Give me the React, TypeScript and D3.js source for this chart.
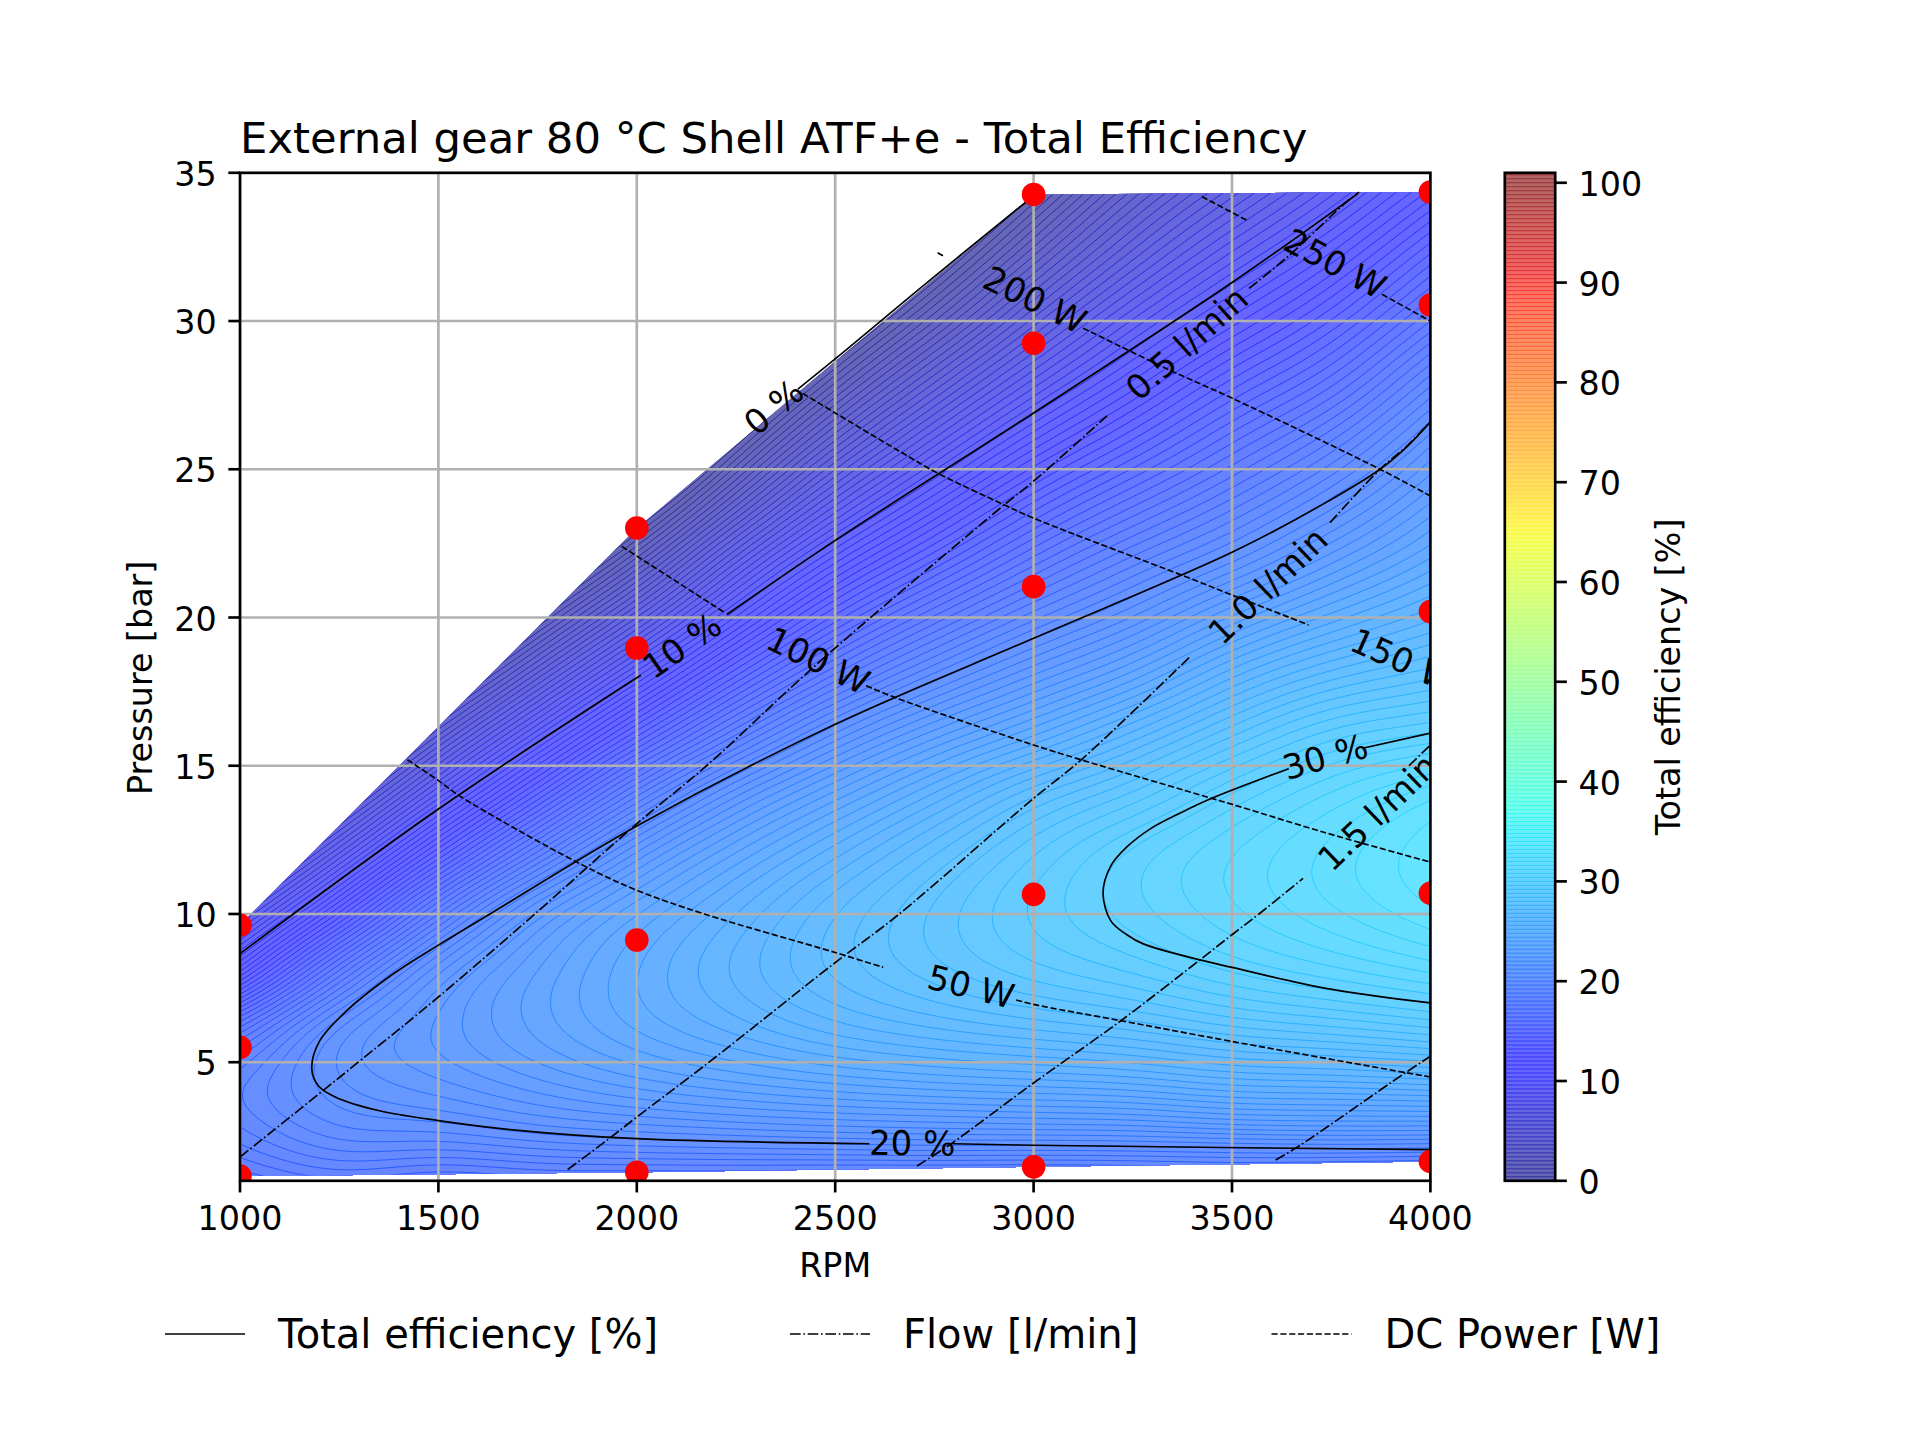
import React, { useMemo } from "react";
import * as d3 from "d3";

// ---------- data ----------
const xTickValues = [1000, 1500, 2000, 2500, 3000, 3500, 4000];
const yTickValues = [5, 10, 15, 20, 25, 30, 35];
const cbarTickValues = [0, 10, 20, 30, 40, 50, 60, 70, 80, 90, 100];

const measuredPoints: [number, number][] = [
  [1000, 9.62], [1000, 5.5], [1000, 1.16],
  [2000, 23.02], [2000, 18.97], [2000, 9.12], [2000, 1.29],
  [3000, 34.27], [3000, 29.25], [3000, 21.04], [3000, 10.66], [3000, 1.47],
  [4000, 34.35], [4000, 30.54], [4000, 20.2], [4000, 10.7], [4000, 1.65],
];

// efficiency table: value per pressure row for each rpm column
const pressureRows = [1, 2, 3, 4, 6, 8, 10, 12, 14, 16, 18, 20, 22, 24, 26, 28, 30, 32, 34, 35];
const rpmColumns = [1000, 1250, 1500, 1750, 2000, 2250, 2500, 2750, 3000, 3250, 3500, 3750, 4000];
const eta1000 = [16.8, 17.8, 18.5, 18.8, 16.8, 11.7, 7.3, 3.0, -1, -5, -9, -13, -17, -21, -25, -29, -33, -37, -41, -43];
const eta1250 = [17.6, 18.9, 19.8, 20.3, 20.3, 17.1, 12.5, 8.1, 3.9, -0.1, -4, -8, -12, -16, -20, -24, -28, -32, -36, -38];
const eta1500 = [17.0, 18.7, 20.0, 20.9, 21.7, 20.9, 17.7, 13.3, 9.0, 4.9, 0.7, -3.5, -7.7, -11.9, -16, -20, -24, -28, -32, -34];
const eta1750 = [17.4, 19.1, 20.6, 21.65, 22.9, 22.85, 21.5, 17.85, 13.7, 9.6, 5.5, 1.4, -2.7, -6.8, -11, -15, -19, -23, -27, -29];
const eta2000 = [17.3, 19.3, 20.95, 22.3, 24.0, 24.4, 23.6, 21.4, 18.0, 14.0, 10.0, 6.0, 2.0, -2, -6, -10, -14, -18, -22, -24];
const eta2250 = [17.3, 19.4, 21.26, 22.8, 24.86, 25.7, 25.2, 23.7, 21.2, 17.7, 14.1, 10.5, 7.0, 3.2, -0.3, -3.8, -7.4, -11, -14.5, -16];
const eta2500 = [17.1, 19.5, 21.5, 23.2, 25.7, 26.9, 26.8, 25.5, 23.4, 20.6, 17.4, 14.2, 11.0, 7.7, 4.4, 1.1, -2.2, -5.5, -8.8, -10.5];
const eta2750 = [17.04, 19.6, 21.65, 23.5, 26.26, 27.8, 28.1, 27.2, 25.3, 22.7, 19.8, 16.9, 13.9, 11.0, 8.1, 5.1, 2.0, -1, -4, -5.5];
const eta3000 = [17.0, 19.55, 21.8, 23.7, 26.7, 28.6, 29.3, 28.8, 27.2, 24.4, 21.7, 19.1, 16.5, 13.9, 11.2, 8.5, 5.8, 3.1, 0.4, -1];
const eta3250 = [17.1, 19.6, 21.9, 23.9, 27.1, 29.2, 30.2, 30.15, 28.5, 26.2, 23.4, 20.8, 18.5, 16.1, 13.6, 11.2, 8.9, 6.5, 4.2, 3.0];
const eta3500 = [17.4, 19.7, 22.3, 24.4, 27.75, 30.0, 31.1, 31.2, 30.1, 28.0, 25.6, 22.9, 20.2, 18.0, 15.9, 13.7, 11.4, 9.2, 7.0, 5.9];
const eta3750 = [17.0, 19.8, 22.4, 24.5, 28.1, 30.6, 31.9, 32.15, 31.3, 29.5, 27.1, 24.6, 22.2, 20.0, 17.9, 15.7, 13.6, 11.5, 9.4, 8.4];
const eta4000 = [16.8, 19.7, 22.4, 24.7, 28.55, 31.2, 32.7, 33.1, 32.3, 30.1, 27.9, 25.9, 24.0, 22.3, 20.6, 18.6, 16.4, 14.3, 12.1, 11.0];
const etaColumns = [eta1000, eta1250, eta1500, eta1750, eta2000, eta2250, eta2500, eta2750, eta3000, eta3250, eta3500, eta3750, eta4000];

// labelled iso-lines, [rpm, bar]
type Pt = [number, number];
const eff0: Pt[] = [[2406, 27.7], [2530, 29.05], [2700, 30.95], [2956, 33.75], [2985, 34.05]];
const eff10a: Pt[] = [[1000, 8.66], [1500, 13.54], [2010, 18.05]];
const eff10b: Pt[] = [[2227, 20.1], [2500, 22.6], [3000, 26.9], [3500, 31.3], [3817, 34.3]];
const eff20a: Pt[] = [
  [4000, 26.6], [3940, 25.75], [3873, 25.0], [3733, 23.85], [3500, 22.2], [3000, 19.3], [2500, 16.4], [2000, 12.97],
  [1630, 10], [1500, 8.95], [1383, 7.95], [1270, 6.75], [1200, 5.7],
  [1181, 4.75], [1198, 4.2], [1240, 3.83], [1349, 3.37], [1500, 3.03], [1687, 2.72], [2000, 2.42], [2586, 2.25],
];
const eff20b: Pt[] = [[2796, 2.25], [3000, 2.2], [4000, 2.05]];
const eff30a: Pt[] = [
  [3643, 14.9], [3449, 13.9], [3375, 13.44], [3295, 12.88], [3235, 12.26], [3195, 11.63], [3175, 10.7], [3195, 9.76], [3235, 9.3], [3275, 9.0], [3419, 8.45],
  [3500, 8.2], [3733, 7.5], [4000, 7.0],
];
const eff30b: Pt[] = [[3832, 15.6], [4000, 16.1]];

const flow05a: Pt[] = [
  [1000, 1.8], [1298, 5], [1500, 7.2], [1743, 10], [1996, 13], [2176, 15], [2406, 17.85], [2537, 19.4], [2926, 23.8],
  [3000, 24.6], [3185, 26.8],
];
const flow05b: Pt[] = [[3543, 31.1], [3643, 32.2], [3787, 34.0], [3820, 34.35]];
const flow10a: Pt[] = [
  [1826, 1.38], [1928, 2.4], [2000, 3.15], [2182, 5], [2500, 8.36], [2656, 9.94], [3000, 13.9], [3120, 15.2], [3392, 18.65],
];
const flow10b: Pt[] = [[3747, 23.2], [3873, 25], [3942, 25.8], [4000, 26.6]];
const flow15a: Pt[] = [
  [2706, 1.5], [2787, 2.2], [3000, 4.3], [3220, 6.4], [3419, 8.45], [3500, 9.3], [3568, 10], [3679, 11.2],
];
const flow15b: Pt[] = [[3946, 15], [4000, 15.7]];
const flow20: Pt[] = [[3610, 1.7], [3664, 2.13], [3932, 4.6], [4000, 5.2]];

const power50a: Pt[] = [[1422, 15.2], [1500, 14.5], [1557, 13.95], [1856, 11.7], [2000, 10.8], [2170, 10], [2500, 8.7], [2621, 8.2]];
const power50b: Pt[] = [[2956, 7.1], [3000, 6.95], [3220, 6.4], [3500, 5.7], [4000, 4.5]];
const power100a: Pt[] = [[1962, 22.4], [2221, 20.17]];
const power100b: Pt[] = [[2578, 17.7], [2651, 17.3], [3000, 15.7], [3120, 15.2], [3449, 13.9], [3500, 13.7], [3733, 12.75], [4000, 11.75]];
const power150: Pt[] = [[2418, 27.56], [2500, 26.9], [2663, 25.6], [2761, 24.85], [2926, 23.8], [3000, 23.35], [3379, 21.4], [3500, 20.76], [3693, 19.75]];
const power200: Pt[] = [[3125, 29.76], [3334, 28.4], [3500, 27.4], [3873, 25], [4000, 24.1]];
const power250a: Pt[] = [[3424, 34.2], [3537, 33.4]];
const power250b: Pt[] = [[3878, 30.9], [4000, 30.0]];
const powerTail: Pt[] = [[2758, 32.3], [2776, 32.17]];

const effSegments = [eff0, eff10a, eff10b, eff20a, eff20b, eff30a, eff30b];
const flowSegments = [flow05a, flow05b, flow10a, flow10b, flow15a, flow15b, flow20];
const powerSegments = [power50a, power50b, power100a, power100b, power150, power200, power250a, power250b, powerTail];

const lineLabels: { text: string; rpm: number; bar: number; angle: number }[] = [
  { text: "0 %", rpm: 2345, bar: 27.1, angle: -40 },
  { text: "10 %", rpm: 2114, bar: 19.05, angle: -35 },
  { text: "20 %", rpm: 2694, bar: 2.27, angle: 0.5 },
  { text: "30 %", rpm: 3735, bar: 15.3, angle: -16 },
  { text: "0.5 l/min", rpm: 3386, bar: 29.25, angle: -42 },
  { text: "1.0 l/min", rpm: 3590, bar: 21.07, angle: -44 },
  { text: "1.5 l/min", rpm: 3867, bar: 13.43, angle: -44 },
  { text: "50 W", rpm: 2842, bar: 7.55, angle: 14 },
  { text: "100 W", rpm: 2457, bar: 18.55, angle: 26 },
  { text: "150 W", rpm: 3930, bar: 18.55, angle: 24 },
  { text: "200 W", rpm: 3003, bar: 30.72, angle: 26 },
  { text: "250 W", rpm: 3760, bar: 31.94, angle: 28 },
];

const legendItems = [
  { text: "Total efficiency [%]", x0: 165, x1: 245, tx: 278, dash: "none" },
  { text: "Flow [l/min]", x0: 790, x1: 870, tx: 903, dash: "dashdot" },
  { text: "DC Power [W]", x0: 1271.5, x1: 1351.5, tx: 1384.5, dash: "dashed" },
];

const TITLE = "External gear 80 °C Shell ATF+e - Total Efficiency";
const LEVEL_STEP = 0.4;
const FIELD_LEVEL_COUNT = 85;
const CBAR_LEVEL_COUNT = 253;

// ---------- layout ----------
const PX = 240 / 72; // pixels per point
const LEFT = 240, RIGHT = 1430.4, TOP = 172.8, BOTTOM = 1180.8;
const CB_L = 1504.8, CB_R = 1555.2;
const FONT = "'DejaVu Sans', sans-serif";
const DASHES: Record<string, string> = {
  none: "none",
  dashdot: [6.4, 1.6, 1, 1.6].map((d) => d * 0.5 * PX).join(" "),
  dashed: [3.7, 1.6].map((d) => d * 0.5 * PX).join(" "),
};

const x = d3.scaleLinear().domain([1000, 4000]).range([LEFT, RIGHT]);
const y = d3.scaleLinear().domain([1, 35]).range([BOTTOM, TOP]);
const cy = d3.scaleLinear().domain([0, 101]).range([BOTTOM, TOP]);

// jet colormap
const jetR = d3.scaleLinear().domain([0, 0.35, 0.66, 0.89, 1]).range([0, 0, 1, 1, 0.5]).clamp(true);
const jetG = d3.scaleLinear().domain([0, 0.125, 0.375, 0.64, 0.91, 1]).range([0, 0, 1, 1, 0, 0]).clamp(true);
const jetB = d3.scaleLinear().domain([0, 0.11, 0.34, 0.65, 1]).range([0.5, 1, 1, 0, 0]).clamp(true);
const jet = (v: number, alpha = 1) => {
  const t = v / 100;
  const mix = (c: number) => Math.round(255 * (c * alpha + (1 - alpha)));
  return `rgb(${mix(jetR(t))},${mix(jetG(t))},${mix(jetB(t))})`;
};

// smooth reading of the table between its rows and columns
function cubicAt(xs: number[], ys: number[], v: number) {
  const n = xs.length;
  const slope = (k: number) => {
    if (k === 0) return (ys[1] - ys[0]) / (xs[1] - xs[0]);
    if (k === n - 1) return (ys[n - 1] - ys[n - 2]) / (xs[n - 1] - xs[n - 2]);
    const h0 = xs[k] - xs[k - 1], h1 = xs[k + 1] - xs[k];
    const d0 = (ys[k] - ys[k - 1]) / h0, d1 = (ys[k + 1] - ys[k]) / h1;
    return (d0 * h1 + d1 * h0) / (h0 + h1);
  };
  if (v <= xs[0]) return ys[0] + (v - xs[0]) * slope(0);
  if (v >= xs[n - 1]) return ys[n - 1] + (v - xs[n - 1]) * slope(n - 1);
  let i = d3.bisectRight(xs, v) - 1;
  i = Math.max(0, Math.min(n - 2, i));
  const h = xs[i + 1] - xs[i];
  const t = (v - xs[i]) / h;
  const t2 = t * t, t3 = t2 * t;
  return (2 * t3 - 3 * t2 + 1) * ys[i] + (t3 - 2 * t2 + t) * h * slope(i) +
    (-2 * t3 + 3 * t2) * ys[i + 1] + (t3 - t2) * h * slope(i + 1);
}

// three box passes along one axis evens out the reading noise of the table
function boxBlur(v: Float64Array, nx: number, ny: number, r: number, alongX: boolean) {
  const [len, lines] = alongX ? [nx, ny] : [ny, nx];
  const at = (l: number, k: number) => (alongX ? l * nx + k : k * nx + l);
  const buf = new Float64Array(len);
  for (let pass = 0; pass < 3; pass++) {
    for (let l = 0; l < lines; l++) {
      for (let k = 0; k < len; k++) {
        let s = 0;
        for (let q = -r; q <= r; q++) s += v[at(l, Math.max(0, Math.min(len - 1, k + q)))];
        buf[k] = s / (2 * r + 1);
      }
      for (let k = 0; k < len; k++) v[at(l, k)] = buf[k];
    }
  }
}

function buildField() {
  const nx = 361, ny = 283;
  const rpmAt = d3.scaleLinear().domain([0, nx - 1]).range([700, 4300]);
  const barAt = d3.scaleLinear().domain([0, ny - 1]).range([37, -1]);
  const values = new Float64Array(nx * ny);
  for (let j = 0; j < ny; j++) {
    const b = barAt(j);
    const colVals = etaColumns.map((col) => cubicAt(pressureRows, col, b));
    for (let i = 0; i < nx; i++) values[j * nx + i] = cubicAt(rpmColumns, colVals, rpmAt(i));
  }
  boxBlur(values, nx, ny, 7, true);
  boxBlur(values, nx, ny, 2, false);
  const levels = d3.range(FIELD_LEVEL_COUNT).map((k) => k * LEVEL_STEP);
  const polys = d3.contours().size([nx, ny]).thresholds(levels)(values as any);
  const proj = d3.geoTransform({
    point(this: any, gx: number, gy: number) {
      this.stream.point(x(rpmAt(gx - 0.5)), y(barAt(gy - 0.5)));
    },
  });
  const path = d3.geoPath(proj);
  return polys.map((p, k) => ({ level: levels[k], d: path(p as any) || "" }));
}

const segLine = d3
  .line<Pt>()
  .x((d) => x(d[0]))
  .y((d) => y(d[1]))
  .curve(d3.curveCatmullRom.alpha(0.5));

const Txt = (p: any) => <text fontFamily={FONT} fill="#000" {...p} />;

export default function App() {
  const bands = useMemo(buildField, []);
  const hull = useMemo(
    () => d3.polygonHull(measuredPoints.map((p) => [x(p[0]), y(p[1])] as [number, number]))!,
    []
  );
  const hullPath = "M" + hull.map((p) => p.join(",")).join("L") + "Z";
  const cbarLevels = d3.range(CBAR_LEVEL_COUNT).map((k) => k * LEVEL_STEP);
  const lw = 0.5 * PX;
  const axisW = 0.8 * PX;
  const tickL = 3.5 * PX;
  const grid = "#b0b0b0";

  return (
    <svg
      width={1920}
      height={1440}
      viewBox="0 0 1920 1440"
      style={{ position: "absolute", left: 0, top: 0, display: "block", background: "#fff" }}
    >
      <defs>
        <clipPath id="axesClip">
          <rect x={LEFT} y={TOP} width={RIGHT - LEFT} height={BOTTOM - TOP} />
        </clipPath>
        <clipPath id="hullClip">
          <path d={hullPath} />
        </clipPath>
      </defs>

      <g clipPath="url(#axesClip)">
        <g clipPath="url(#hullClip)">
          <path d={hullPath} fill={jet(0, 0.6)} />
          {bands.map((b) => (
            <path key={b.level} d={b.d} fill={jet(b.level + LEVEL_STEP / 2, 0.6)} />
          ))}
          {bands.map((b) => (
            <path key={b.level} d={b.d} fill="none" stroke={jet(b.level)} strokeOpacity={0.65} strokeWidth={0.9} />
          ))}
        </g>
        {xTickValues.map((t) => (
          <line key={t} x1={x(t)} x2={x(t)} y1={TOP} y2={BOTTOM} stroke={grid} strokeWidth={axisW} />
        ))}
        {yTickValues.map((t) => (
          <line key={t} x1={LEFT} x2={RIGHT} y1={y(t)} y2={y(t)} stroke={grid} strokeWidth={axisW} />
        ))}
        {effSegments.map((s, i) => (
          <path key={i} d={segLine(s)!} fill="none" stroke="#000" strokeWidth={lw} />
        ))}
        {flowSegments.map((s, i) => (
          <path key={i} d={segLine(s)!} fill="none" stroke="#000" strokeWidth={lw} strokeDasharray={DASHES.dashdot} />
        ))}
        {powerSegments.map((s, i) => (
          <path key={i} d={segLine(s)!} fill="none" stroke="#000" strokeWidth={lw} strokeDasharray={DASHES.dashed} />
        ))}
        {lineLabels.map((l) => (
          <Txt
            key={l.text}
            fontSize={34}
            textAnchor="middle"
            dominantBaseline="central"
            transform={`translate(${x(l.rpm)},${y(l.bar)}) rotate(${l.angle})`}
          >
            {l.text}
          </Txt>
        ))}
        {measuredPoints.map((p, i) => (
          <circle key={i} cx={x(p[0])} cy={y(p[1])} r={11.8} fill="#ff0000" />
        ))}
      </g>

      <rect x={LEFT} y={TOP} width={RIGHT - LEFT} height={BOTTOM - TOP} fill="none" stroke="#000" strokeWidth={axisW} />
      {xTickValues.map((t) => (
        <g key={t}>
          <line x1={x(t)} x2={x(t)} y1={BOTTOM} y2={BOTTOM + tickL} stroke="#000" strokeWidth={axisW} />
          <Txt x={x(t)} y={BOTTOM + 49.5} fontSize={33.33} textAnchor="middle">{t}</Txt>
        </g>
      ))}
      {yTickValues.map((t) => (
        <g key={t}>
          <line x1={LEFT - tickL} x2={LEFT} y1={y(t)} y2={y(t)} stroke="#000" strokeWidth={axisW} />
          <Txt x={LEFT - 2 * tickL} y={y(t) + 13} fontSize={33.33} textAnchor="end">{t}</Txt>
        </g>
      ))}
      <Txt x={LEFT} y={TOP - 20} fontSize={43.33}>{TITLE}</Txt>
      <Txt x={(LEFT + RIGHT) / 2} y={1277} fontSize={33.33} textAnchor="middle">RPM</Txt>
      <Txt transform={`translate(152,${(TOP + BOTTOM) / 2 + 1}) rotate(-90)`} fontSize={33.33} textAnchor="middle">Pressure [bar]</Txt>

      {cbarLevels.map((lv, i) => {
        const next = i === cbarLevels.length - 1 ? 101 : cbarLevels[i + 1];
        return (
          <rect key={lv} x={CB_L} width={CB_R - CB_L} y={cy(next)} height={cy(lv) - cy(next) + 0.5} fill={jet(lv + LEVEL_STEP / 2, 0.6)} />
        );
      })}
      {cbarLevels.map((lv) => (
        <line key={lv} x1={CB_L} x2={CB_R} y1={cy(lv)} y2={cy(lv)} stroke={jet(lv)} strokeOpacity={0.6} strokeWidth={0.9} />
      ))}
      <rect x={CB_L} y={TOP} width={CB_R - CB_L} height={BOTTOM - TOP} fill="none" stroke="#000" strokeWidth={axisW} />
      {cbarTickValues.map((t) => (
        <g key={t}>
          <line x1={CB_R} x2={CB_R + tickL} y1={cy(t)} y2={cy(t)} stroke="#000" strokeWidth={axisW} />
          <Txt x={CB_R + 2 * tickL} y={cy(t) + 13} fontSize={33.33}>{t}</Txt>
        </g>
      ))}
      <Txt transform={`translate(1680,${(TOP + BOTTOM) / 2}) rotate(-90)`} fontSize={33.33} textAnchor="middle">Total efficiency [%]</Txt>

      {legendItems.map((l) => (
        <g key={l.text}>
          <line x1={l.x0} x2={l.x1} y1={1334} y2={1334} stroke="#000" strokeWidth={lw} strokeDasharray={DASHES[l.dash]} />
          <Txt x={l.tx} y={1348} fontSize={40}>{l.text}</Txt>
        </g>
      ))}
    </svg>
  );
}
